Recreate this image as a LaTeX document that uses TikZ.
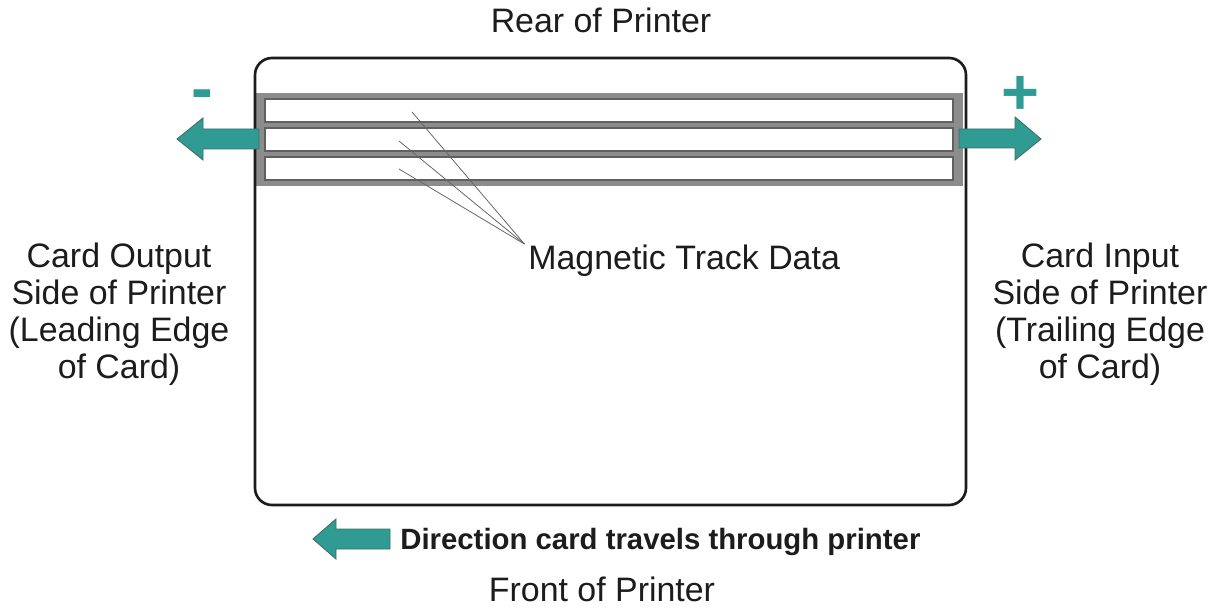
\documentclass[tikz,border=0pt]{standalone}
\usepackage{fontspec}
\setmainfont{Liberation Sans}
\usetikzlibrary{positioning}
\definecolor{arrowTeal}{HTML}{2F9B93}
\definecolor{arrowEdge}{HTML}{3F6F68}
\definecolor{bandGray}{HTML}{8C8C8C}
\definecolor{trackEdge}{HTML}{606060}
\definecolor{inkDark}{HTML}{1C1C1C}

\begin{document}
\begin{tikzpicture}[
  x=0.02cm, y=-0.02cm,
  font=\fontsize{19.3}{21}\selectfont,
  label/.style={inner sep=0pt, text=inkDark, align=center},
  sign/.style={inner sep=0pt, text=arrowTeal,
    font=\fontsize{37}{37}\selectfont\bfseries},
  fatarrow/.style={fill=arrowTeal, draw=arrowEdge, line width=0.5pt, line join=miter},
  track/.style={fill=white, draw=trackEdge, line width=0.6pt},
  pointer/.style={draw=black!60, line width=0.45pt},
]
\useasboundingbox[fill=white] (0,0) rectangle (1218,608);

% card with the magnetic stripe
\fill[bandGray] (255,93) rectangle (963,186);
\draw[inkDark, line width=1.5pt, rounded corners=0.34cm] (255,58) rectangle (966,505);
\foreach \y in {99,128,157}
  \draw[track] (265,\y) rectangle (953,\y+23);

% block arrows
\draw[fatarrow] (259,129) -- (203,129) -- (203,118) -- (177,139) -- (203,160)
  -- (203,149) -- (259,149) -- cycle;
\draw[fatarrow] (959,129) -- (1015,129) -- (1015,117) -- (1041,139) -- (1015,160)
  -- (1015,148) -- (959,148) -- cycle;
\draw[fatarrow] (390,529) -- (336,529) -- (336,519) -- (313,539) -- (336,559)
  -- (336,549) -- (390,549) -- cycle;

\node[sign, anchor=base] (minus) at (202,111) {-};
\node[sign, anchor=base] (plus) at (1020.5,115) {+};

\node[label, anchor=base] (rear) at (601,33) {Rear of Printer};
\node[label, anchor=base] (front) at (602,601) {Front of Printer};
\node[label] (outlbl) at (119,314)
  {Card Output\\Side of Printer\\(Leading Edge\\of Card)};
\node[label] (inlbl) at (1100,314)
  {Card Input\\Side of Printer\\(Trailing Edge\\of Card)};
\node[label, anchor=base west, font=\fontsize{16.7}{18}\selectfont\bfseries]
  (dirtext) at (400,549) {Direction card travels through printer};

% leader lines to the tracks
\node[label, anchor=base west] (magdata) at (528,269) {Magnetic Track Data};
\coordinate (trk1) at (412,112);
\coordinate (trk2) at (399,141);
\coordinate (trk3) at (399,169);
\foreach \t in {trk1,trk2,trk3}
  \draw[pointer] (\t) -- ([xshift=-2pt]magdata.north west);

\end{tikzpicture}
\end{document}
